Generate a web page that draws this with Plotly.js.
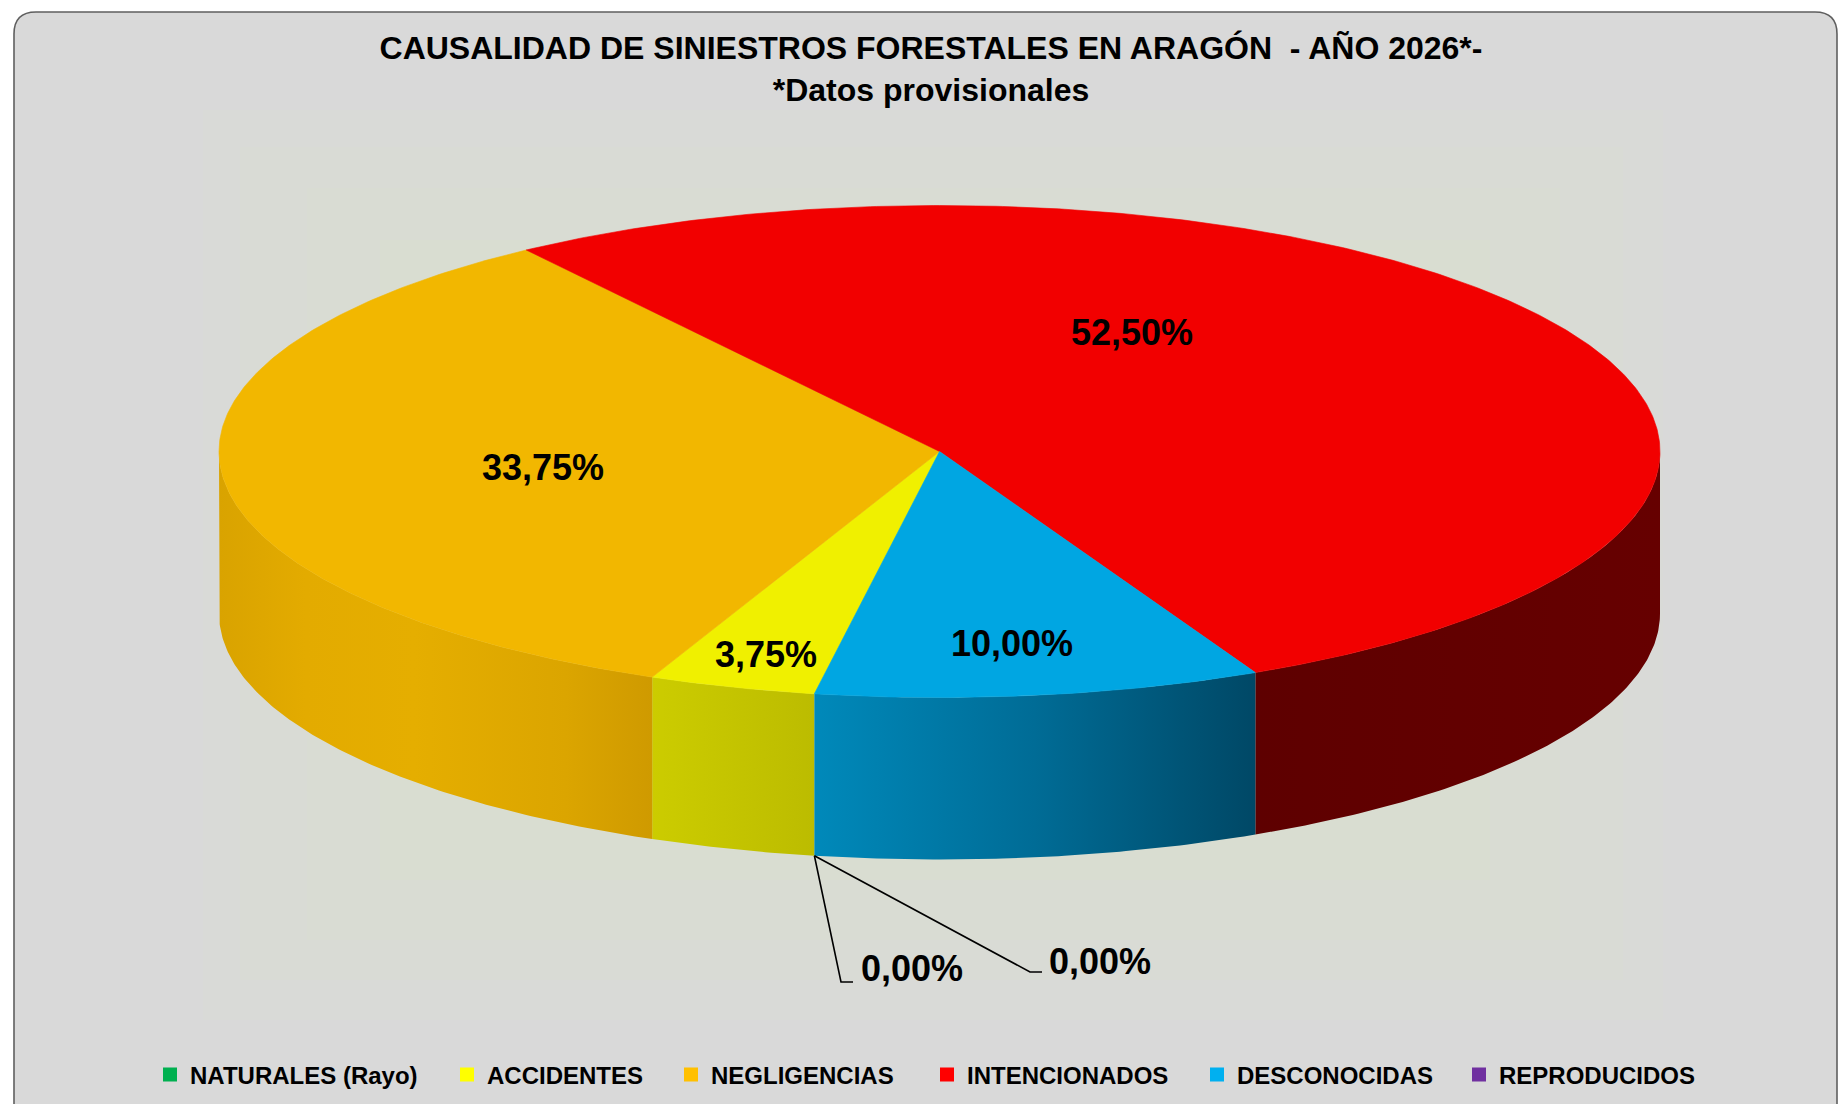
<!DOCTYPE html>
<html>
<head>
<meta charset="utf-8">
<script src="https://cdn.plot.ly/plotly-3.0.1.min.js"></script>
<style>
html,body{margin:0;padding:0;background:#ffffff;overflow:hidden}
#chart{width:1839px;height:1104px}
</style>
</head>
<body>
<div id="chart"></div>
<script>
// ---------------- DATA ----------------
const categories = ['NATURALES (Rayo)', 'ACCIDENTES', 'NEGLIGENCIAS', 'INTENCIONADOS', 'DESCONOCIDAS', 'REPRODUCIDOS'];
const percentages = [0.00, 3.75, 33.75, 52.50, 10.00, 0.00];
const titleLine1 = 'CAUSALIDAD DE SINIESTROS FORESTALES EN ARAGÓN  - AÑO 2026*-';
const titleLine2 = '*Datos provisionales';

// ---------------- STYLE ----------------
const legendColors = ['#00b050', '#ffff00', '#ffc000', '#ff0000', '#00b0f0', '#7030a0'];
const topColors    = ['#00a84c', '#f0f000', '#f2b700', '#f20000', '#00a6e2', '#6a2e98'];
const sideColorscales = [
  [[0, '#00903f'], [1, '#006a2e']],
  [[0, '#cccc00'], [1, '#bcbc00']],
  [[0, '#d9a300'], [0.2, '#e3ab00'], [0.45, '#e5ae00'], [0.8, '#dba500'], [1, '#cf9a00']],
  [[0, '#5e0000'], [1, '#660000']],
  [[0, '#0089ba'], [0.5, '#006c96'], [1, '#004866']],
  [[0, '#5a2788'], [1, '#3e1a5e']]
];
const legendWidths = [252, 179, 211, 225, 217, 205];
// label placement (layout), per category
const labelPos   = [[859, 968], [766, 654], [543, 467], [1132, 332], [1012, 643], [1047, 961]];
const leaderBend = [[841, 982, 853], null, null, null, null, [1030, 972, 1042]];

const FONT = 'Liberation Sans, Arial, Helvetica, sans-serif';
const W = 1839, H = 1104;
const CX = 939.5, CY = 451.5, RX = 720.5, RY = 246, DEPTH = 162, FIRST_ANGLE = 190;

// ---------------- GEOMETRY (from data) ----------------
const total = percentages.reduce((a, b) => a + b, 0);
function pt(deg, dy) {
  const r = deg * Math.PI / 180;
  return [CX + RX * Math.sin(r), CY - RY * Math.cos(r) + (dy || 0)];
}
function arc(a0, a1, dy) {
  const n = Math.max(2, Math.ceil(Math.abs(a1 - a0) / 0.5));
  const xs = [], ys = [];
  for (let k = 0; k <= n; k++) {
    const p = pt(a0 + (a1 - a0) * k / n, dy);
    xs.push(p[0]); ys.push(p[1]);
  }
  return [xs, ys];
}
function fmt(v) { return v.toFixed(2).replace('.', ',') + '%'; }

const sideTraces = [], topTraces = [], leaderTraces = [], legendTraces = [], annotations = [];
let acc = FIRST_ANGLE;
percentages.forEach((v, i) => {
  const a0 = acc, a1 = acc + v / total * 360;
  acc = a1;
  if (v > 0) {
    const [ax, ay] = arc(a0, a1, 0);
    topTraces.push({
      type: 'scatter', mode: 'lines',
      x: [CX].concat(ax, [CX]), y: [CY].concat(ay, [CY]),
      fill: 'toself', fillcolor: topColors[i],
      line: {color: topColors[i], width: 0.6},
      hoverinfo: 'skip', showlegend: false
    });
    [[90, 270], [450, 630]].forEach(([f0, f1]) => {
      const s = Math.max(a0, f0), e = Math.min(a1, f1);
      if (e > s) {
        const [tx, ty] = arc(s, e, 0);
        const [bx, by] = arc(e, s, DEPTH);
        const xs = tx.concat(bx), ys = ty.concat(by);
        xs.push(xs[0]); ys.push(ys[0]);
        sideTraces.push({
          type: 'scatter', mode: 'lines', x: xs, y: ys,
          fill: 'toself',
          fillcolor: sideColorscales[i][0][1],
          fillgradient: {type: 'horizontal', colorscale: sideColorscales[i],
                         start: Math.min(...xs), stop: Math.max(...xs)},
          line: {width: 0},
          hoverinfo: 'skip', showlegend: false
        });
      }
    });
    annotations.push({
      x: labelPos[i][0], y: labelPos[i][1], xref: 'x', yref: 'y',
      text: fmt(v), showarrow: false, xanchor: 'center', yanchor: 'middle',
      font: {family: FONT, size: 36, color: '#000000', weight: 'bold'}
    });
  } else {
    const o = pt(a0, DEPTH);
    const b = leaderBend[i];
    leaderTraces.push({
      type: 'scatter', mode: 'lines',
      x: [o[0], b[0], b[2]], y: [o[1], b[1], b[1]],
      line: {color: '#000000', width: 1.6},
      hoverinfo: 'skip', showlegend: false
    });
    annotations.push({
      x: labelPos[i][0], y: labelPos[i][1], xref: 'x', yref: 'y',
      text: fmt(v), showarrow: false, xanchor: 'left', yanchor: 'middle',
      font: {family: FONT, size: 36, color: '#000000', weight: 'bold'}
    });
  }
  legendTraces.push({
    type: 'scatter', mode: 'markers', x: [null], y: [null],
    name: categories[i],
    marker: {symbol: 'square', size: 14, color: legendColors[i]},
    legendwidth: legendWidths[i],
    hoverinfo: 'skip', showlegend: true
  });
});

// ---------------- BACKGROUND ----------------
const shapes = [
  {type: 'path', xref: 'x', yref: 'y', layer: 'below',
   path: 'M14,34 Q14,12 36,12 L1815,12 Q1837,12 1837,34 L1837,1130 L14,1130 Z',
   fillcolor: '#d9d9d9', line: {color: '#5f5f5f', width: 1.6}}
];
const bands = [
  [203, 110, 1663, 1020, '#d9dad7'],
  [240, 147, 1623, 980, '#d9dbd5'],
  [307, 188, 1560, 940, '#d9dcd3'],
  [380, 240, 1490, 880, '#d9ddd1']
];
bands.forEach(b => shapes.push({type: 'rect', xref: 'x', yref: 'y', layer: 'below',
  x0: b[0], y0: b[1], x1: b[2], y1: b[3], fillcolor: b[4], line: {width: 0}}));

const layout = {
  width: W, height: H,
  margin: {l: 0, r: 0, t: 0, b: 0, pad: 0},
  paper_bgcolor: '#ffffff', plot_bgcolor: 'rgba(0,0,0,0)',
  xaxis: {range: [0, W], visible: false, fixedrange: true},
  yaxis: {range: [H, 0], visible: false, fixedrange: true},
  title: {
    text: titleLine1 + '<br>' + titleLine2,
    font: {family: FONT, size: 32, color: '#000000', weight: 'bold'},
    x: 931 / W, xanchor: 'center', xref: 'paper',
    y: 1 - 59 / H, yanchor: 'top', yref: 'container'
  },
  showlegend: true,
  legend: {
    orientation: 'h', x: 150 / W, xanchor: 'left', y: (H - 1075) / H, yanchor: 'middle',
    font: {family: FONT, size: 24, color: '#000000', weight: 'bold'},
    bgcolor: 'rgba(0,0,0,0)', borderwidth: 0, itemwidth: 30,
    itemclick: false, itemdoubleclick: false
  },
  shapes: shapes,
  annotations: annotations
};

Plotly.newPlot('chart', sideTraces.concat(topTraces, leaderTraces, legendTraces), layout,
  {displayModeBar: false, staticPlot: true});
</script>
</body>
</html>
